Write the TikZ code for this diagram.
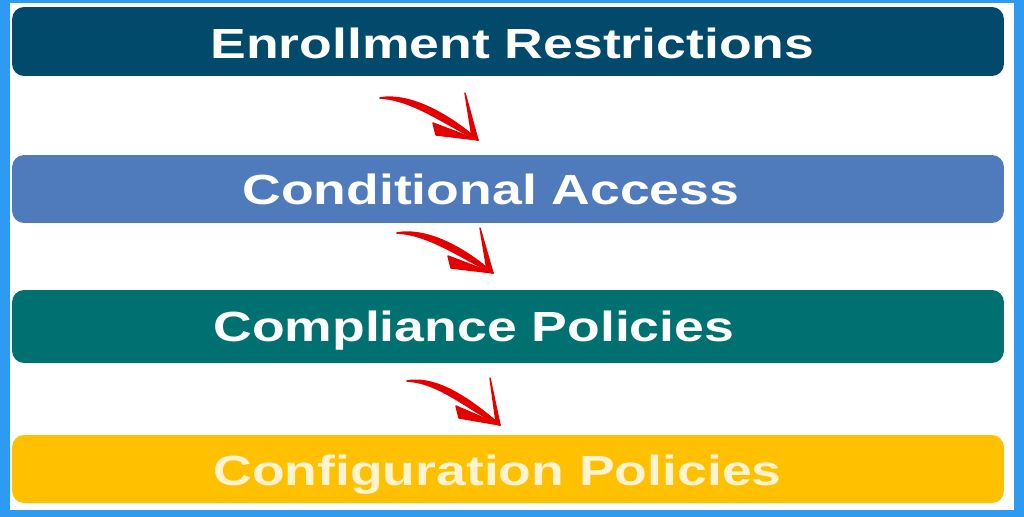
\documentclass[tikz,border=0pt]{standalone}
\usepackage{fontspec}
\usepackage{tikz}
\usetikzlibrary{calc}
\newfontfamily\barfont{Liberation Sans}[FakeStretch=1.27]
\definecolor{framblue}{RGB}{46,155,242}
\definecolor{enrollblue}{RGB}{2,74,108}
\definecolor{condblue}{RGB}{79,122,187}
\definecolor{compteal}{RGB}{0,113,112}
\definecolor{confyellow}{RGB}{255,192,0}
\definecolor{confcream}{RGB}{255,243,208}
\definecolor{arrowred}{RGB}{228,0,0}

\begin{document}
\begin{tikzpicture}[x=0.02cm,y=-0.02cm,
    bar/.style={rectangle,rounded corners=0.24cm,minimum width=19.84cm,inner sep=0pt},
    barlabel/.style={anchor=base west,inner sep=0pt,font=\barfont\bfseries\fontsize{24}{28}\selectfont},
    swoosh/.style={fill=arrowred,draw=arrowred,line width=1pt,line cap=round,line join=round},
    barb/.style={fill=arrowred,draw=arrowred,line width=0.8pt,line join=round}]
    \useasboundingbox (0,0) rectangle (1024,517);

    % Frame
    \fill[framblue] (0,0) rectangle (1024,517);
    \fill[white] (10,3) rectangle (1014,510);

    % Bars
    \node[bar,fill=enrollblue,minimum height=1.38cm] at (508,41.5) (enroll) {};
    \node[bar,fill=condblue,minimum height=1.36cm] at (508,189) (cond) {};
    \node[bar,fill=compteal,minimum height=1.46cm] at (508,326.5) (comp) {};
    \node[bar,fill=confyellow,minimum height=1.36cm] at (508,469) (conf) {};

    % Labels
    \node[barlabel,text=white] at (210,59) (enrolltext) {Enrollment Restrictions};
    \node[barlabel,text=white] at (242,204) (condtext) {Conditional Access};
    \node[barlabel,text=white] at (213,341) (comptext) {Compliance Policies};
    \node[barlabel,text=confcream] at (213,485) (conftext) {Configuration Policies};

    % Arrows
    \coordinate (tail1) at (380,98);
    \coordinate (tip1) at (478,140);
    \coordinate (tail2) at (397,233);
    \coordinate (tip2) at (493,273);
    \coordinate (tail3) at (407,381);
    \coordinate (tip3) at (500,425);

    \filldraw[swoosh] (tail1) .. controls +(30,-5) and +(-30,-26) .. (tip1)
        .. controls +(-30,-14) and +(32,1) .. (tail1);
    \filldraw[barb] (tip1) -- ++(-13,-47) -- ++(7,44) -- cycle;
    \filldraw[barb] (tip1) -- ++(-45,-17) -- ++(3,12) -- cycle;

    \filldraw[swoosh] (tail2) .. controls +(30,-5) and +(-30,-26) .. (tip2)
        .. controls +(-30,-14) and +(32,1) .. (tail2);
    \filldraw[barb] (tip2) -- ++(-13,-45) -- ++(7,42) -- cycle;
    \filldraw[barb] (tip2) -- ++(-45,-17) -- ++(3,12) -- cycle;

    \filldraw[swoosh] (tail3) .. controls +(30,-5) and +(-30,-26) .. (tip3)
        .. controls +(-30,-14) and +(32,1) .. (tail3);
    \filldraw[barb] (tip3) -- ++(-10,-47) -- ++(6,44) -- cycle;
    \filldraw[barb] (tip3) -- ++(-44,-19) -- ++(3,12) -- cycle;
\end{tikzpicture}
\end{document}
